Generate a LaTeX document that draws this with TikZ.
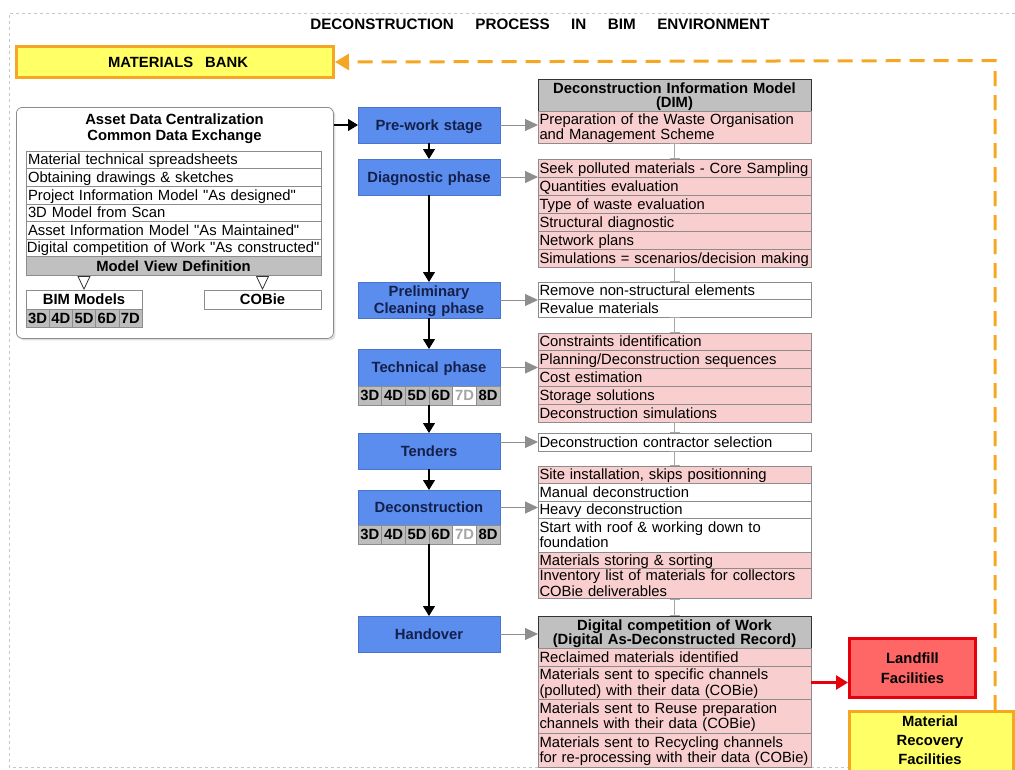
\documentclass[tikz,border=0pt]{standalone}
\usepackage{fontspec}
\setmainfont{Liberation Sans}[Ligatures=TeXOff]
\usetikzlibrary{arrows.meta,shadows}
\definecolor{bluec}{HTML}{5B8DEF}
\definecolor{bluedark}{HTML}{4A74C9}
\definecolor{navy}{HTML}{14204A}
\definecolor{pinkc}{HTML}{F9CECE}
\definecolor{hdrgray}{HTML}{C0C0C0}
\definecolor{dimgray}{HTML}{BDBDBD}
\definecolor{rowline}{HTML}{8C8C8C}
\definecolor{orangec}{HTML}{F5A623}
\definecolor{yellowc}{HTML}{FFFF66}
\definecolor{redc}{HTML}{E5000A}
\definecolor{redfill}{HTML}{FF6666}
\definecolor{arrowgray}{HTML}{8E8E8E}
\newcommand\nohy{\hyphenpenalty=10000\exhyphenpenalty=10000\lefthyphenmin=62\relax}
\newcommand\rf{\fontsize{14.8}{15.5}\selectfont\nohy}
\newcommand\rfb{\fontsize{14.8}{16}\selectfont\bfseries\nohy}
\newcommand\phf{\fontsize{14.8}{17}\selectfont\bfseries\nohy}
\newcommand\hdf{\fontsize{14.8}{14}\selectfont\bfseries\nohy}
\newcommand\titlefont{\fontsize{15.2}{17}\selectfont\bfseries}
\tikzset{
  lrow/.style={draw=rowline, line width=0.7pt, anchor=north west, minimum width=273pt,
    text width=270pt, inner xsep=1.5pt, inner ysep=0pt, align=left, font=\rf,
    text height=11pt, text depth=1pt, outer sep=0pt},
  two/.style={text depth=16.5pt},
  pinkrow/.style={lrow, fill=pinkc},
  whiterow/.style={lrow, fill=white},
  hdrrow/.style={lrow, fill=hdrgray, draw=black!80, line width=0.9pt, align=center, font=\hdf, text depth=15pt},
  phase/.style={draw=bluedark, fill=bluec, line width=0.8pt, anchor=north west, minimum width=142pt,
    text width=138pt, inner xsep=2pt, inner ysep=0pt, align=center, font=\phf, text=navy,
    text height=10.5pt, text depth=0pt, outer sep=0pt},
  dimcell/.style={draw=rowline, fill=dimgray, line width=0.6pt, anchor=north west,
    minimum width=23.667pt, minimum height=19pt, inner sep=0pt, font=\rfb, outer sep=0pt},
  dimoff/.style={dimcell, fill=white, text=gray!70},
  arow/.style={draw=rowline, fill=white, line width=0.6pt, anchor=north west, minimum width=295pt,
    text width=291pt, inner xsep=2pt, inner ysep=0pt, minimum height=17.6pt, align=left, font=\rf,
    text height=11pt, text depth=1pt, outer sep=0pt},
  smallbox/.style={draw=rowline, fill=white, line width=0.7pt, anchor=north west, minimum height=19pt,
    inner sep=0pt, font=\rfb, outer sep=0pt},
  garrow/.style={draw=arrowgray, line width=1pt, -{Triangle[length=13pt,width=12pt]}},
  barrow/.style={draw=black, line width=1.1pt, -{Triangle[length=10pt,width=12pt]}},
  ibar/.style={draw=gray!70, line width=1pt, {Bar[width=10pt]}-{Bar[width=10pt]}},
  tri/.style={draw=black!80, line width=0.8pt, -{Triangle[open,length=14pt,width=13pt]}},
}
\begin{document}
\begin{tikzpicture}[x=1pt,y=-1pt]
\useasboundingbox (0,0) rectangle (1015,769);
% outer frame
\draw[gray!45, dashed, line width=0.6pt] (1015,13) -- (9,13) -- (9,767) -- (1015,767);
% title
\node[font=\titlefont, inner sep=0pt] (title) at (540,24)
  {DECONSTRUCTION\hspace{21.5pt}PROCESS\hspace{21.5pt}IN\hspace{21.5pt}BIM\hspace{21.5pt}ENVIRONMENT};
% materials bank
\node[draw=orangec, fill=yellowc, line width=3pt, anchor=north west, minimum width=317pt,
  minimum height=31pt, inner sep=0pt, font=\rfb] (bank) at (15,45) {\hspace{6pt}MATERIALS\hspace{12pt}BANK};

% asset box
\node[draw=rowline, fill=white, rounded corners=6pt, line width=0.8pt, anchor=north west,
  minimum width=317pt, minimum height=231pt,
  drop shadow={shadow xshift=2pt, shadow yshift=-2pt, opacity=0.25}] (asset) at (16,107) {};
\node[font=\rfb, align=center, inner sep=0pt] (assettitle) at (174.5,129)
  {Asset Data Centralization\\Common Data Exchange};
\node[arow] (a1) at (26,151) {Material technical spreadsheets};
\node[arow] (a2) at (26,168.6) {Obtaining drawings \& sketches};
\node[arow] (a3) at (26,186.2) {Project Information Model "As designed"};
\node[arow] (a4) at (26,203.8) {3D Model from Scan};
\node[arow] (a5) at (26,221.4) {Asset Information Model "As Maintained"};
\node[arow, inner xsep=1pt, text width=293pt] (a6) at (26,239) {Digital competition of Work "As constructed"};
\node[arow, fill=hdrgray, font=\rfb, align=center, minimum height=19pt] (mvd) at (26,256.6) {Model View Definition};
\node[smallbox, minimum width=116pt] (bim) at (26,290) {BIM Models};
\node[smallbox, minimum width=117pt] (cobie) at (204,290) {COBie};
\foreach \t [count=\i from 0] in {3D,4D,5D,6D,7D}
  \node[dimcell, minimum width=23.2pt, minimum height=18pt] (ac\i) at ({26+\i*23.2},309) {\t};
\draw[tri] (mvd.south -| bim.north) -- (bim.north);
\draw[tri] (mvd.south -| cobie.north) -- (cobie.north);

% phases
\node[phase, minimum height=36pt] (pre) at (358,107) {Pre-work stage};
\node[phase, minimum height=36pt] (diag) at (358,159) {Diagnostic phase};
\node[phase, minimum height=36pt, text depth=17pt] (prel) at (358,282) {Preliminary\\Cleaning phase};
\node[phase, minimum height=37pt] (tech) at (358,349) {Technical phase};
\node[phase, minimum height=36pt] (tend) at (358,433) {Tenders};
\node[phase, minimum height=35pt] (decon) at (358,490) {Deconstruction};
\node[phase, minimum height=36pt] (hand) at (358,616) {Handover};
\node[anchor=north west, minimum width=142pt, minimum height=19pt, inner sep=0pt, outer sep=0pt] (tdims) at (358,386) {};
\node[anchor=north west, minimum width=142pt, minimum height=19pt, inner sep=0pt, outer sep=0pt] (cdims) at (358,525) {};
\foreach \t/\s [count=\i from 0] in {3D/dimcell,4D/dimcell,5D/dimcell,6D/dimcell,7D/dimoff,8D/dimcell}{
  \node[\s] (tc\i) at ({358+\i*23.667},386) {\t};
  \node[\s] (cc\i) at ({358+\i*23.667},525) {\t};
}

% right lists
\node[hdrrow, minimum height=32pt] (dimh) at (538,79) {Deconstruction Information Model\\(DIM)};
\node[pinkrow, two, minimum height=32pt] (p1) at (538,111) {Preparation of the Waste Organisation\\and Management Scheme};

\node[pinkrow, minimum height=18pt] (d1) at (538,159) {Seek polluted materials - Core Sampling};
\node[pinkrow, minimum height=18pt] (d2) at (538,177) {Quantities evaluation};
\node[pinkrow, minimum height=18pt] (d3) at (538,195) {Type of waste evaluation};
\node[pinkrow, minimum height=18pt] (d4) at (538,213) {Structural diagnostic};
\node[pinkrow, minimum height=18pt] (d5) at (538,231) {Network plans};
\node[pinkrow, minimum height=18pt] (d6) at (538,249) {Simulations = scenarios/decision making};

\node[whiterow, minimum height=17.5pt] (r1) at (538,282) {Remove non-structural elements};
\node[whiterow, minimum height=17.5pt] (r2) at (538,299.5) {Revalue materials};

\node[pinkrow, minimum height=17.8pt] (t1) at (538,333) {Constraints identification};
\node[pinkrow, minimum height=17.8pt] (t2) at (538,350.8) {Planning/Deconstruction sequences};
\node[pinkrow, minimum height=17.8pt] (t3) at (538,368.6) {Cost estimation};
\node[pinkrow, minimum height=17.8pt] (t4) at (538,386.4) {Storage solutions};
\node[pinkrow, minimum height=17.8pt] (t5) at (538,404.2) {Deconstruction simulations};

\node[whiterow, minimum height=18pt] (tn1) at (538,433) {Deconstruction contractor selection};

\node[pinkrow, minimum height=17.5pt] (c1) at (538,466) {Site installation, skips positionning};
\node[whiterow, minimum height=17.5pt] (c2) at (538,483.5) {Manual deconstruction};
\node[whiterow, minimum height=17pt] (c3) at (538,501) {Heavy deconstruction};
\node[whiterow, two, minimum height=34pt] (c4) at (538,518) {Start with roof \& working down to\\foundation};
\node[pinkrow, minimum height=16.5pt] (c5) at (538,552) {Materials storing \& sorting};
\node[pinkrow, two, minimum height=30pt] (c6) at (538,568.5) {Inventory list of materials for collectors\\COBie deliverables};

\node[hdrrow, minimum height=32pt] (h0) at (538,616) {Digital competition of Work\\(Digital As-Deconstructed Record)};
\node[pinkrow, minimum height=18pt] (h1) at (538,648) {Reclaimed materials identified};
\node[pinkrow, two, minimum height=33pt] (h2) at (538,666) {Materials sent to specific channels\\(polluted) with their data (COBie)};
\node[pinkrow, two, minimum height=34pt] (h3) at (538,699) {Materials sent to Reuse preparation\\channels with their data (COBie)};
\node[pinkrow, two, minimum height=34pt] (h4) at (538,733) {Materials sent to Recycling channels\\for re-processing with their data (COBie)};

% facilities
\node[draw=redc, fill=redfill, line width=3pt, anchor=north west, minimum width=126pt, minimum height=59pt,
  inner sep=0pt, align=center, font=\fontsize{14.8}{20}\selectfont\bfseries] (lf) at (848,637) {Landfill\\Facilities};
\node[draw=orangec, fill=yellowc, line width=3pt, anchor=north west, minimum width=164pt, minimum height=75pt,
  inner sep=0pt] (mrf) at (848,710) {};
\node[font=\fontsize{14.8}{19}\selectfont\bfseries, align=center, inner sep=0pt] (mrftext) at (930,740)
  {Material\\Recovery\\Facilities};

% connectors
\draw[barrow] (asset.east |- pre.west) -- (pre.west);
\draw[barrow] (pre.south) -- (diag.north);
\draw[barrow] (diag.south) -- (prel.north);
\draw[barrow] (prel.south) -- (tech.north);
\draw[barrow] (tdims.south) -- (tend.north);
\draw[barrow] (tend.south) -- (decon.north);
\draw[barrow] (cdims.south) -- (hand.north);

\draw[garrow] (pre.east) -- (pre.east -| p1.west);
\draw[garrow] (diag.east) -- (diag.east -| d1.west);
\draw[garrow] (prel.east) -- (prel.east -| r1.west);
\draw[garrow] (tech.east) -- (tech.east -| t1.west);
\draw[garrow] (tend.east |- tn1.west) -- (tn1.west);
\draw[garrow] (decon.east) -- (decon.east -| c1.west);
\draw[garrow] (hand.east) -- (hand.east -| h0.west);

\draw[ibar] (p1.south) -- (d1.north);
\draw[ibar] (d6.south) -- (r1.north);
\draw[ibar] (r2.south) -- (t1.north);
\draw[ibar] (t5.south) -- (tn1.north);
\draw[ibar] (tn1.south) -- (c1.north);
\draw[ibar] (c6.south) -- (h0.north);

\draw[redc, line width=2.5pt, -{Triangle[length=12pt,width=14pt]}] (h2.east) -- (h2.east -| lf.west);

\coordinate (obend) at (995,60.5);
\draw[orangec, line width=3pt, dash pattern=on 15pt off 9pt, -{Triangle[length=14pt,width=16pt]}]
  (mrf.north -| obend) -- (obend) -- (bank.east);
\end{tikzpicture}
\end{document}
